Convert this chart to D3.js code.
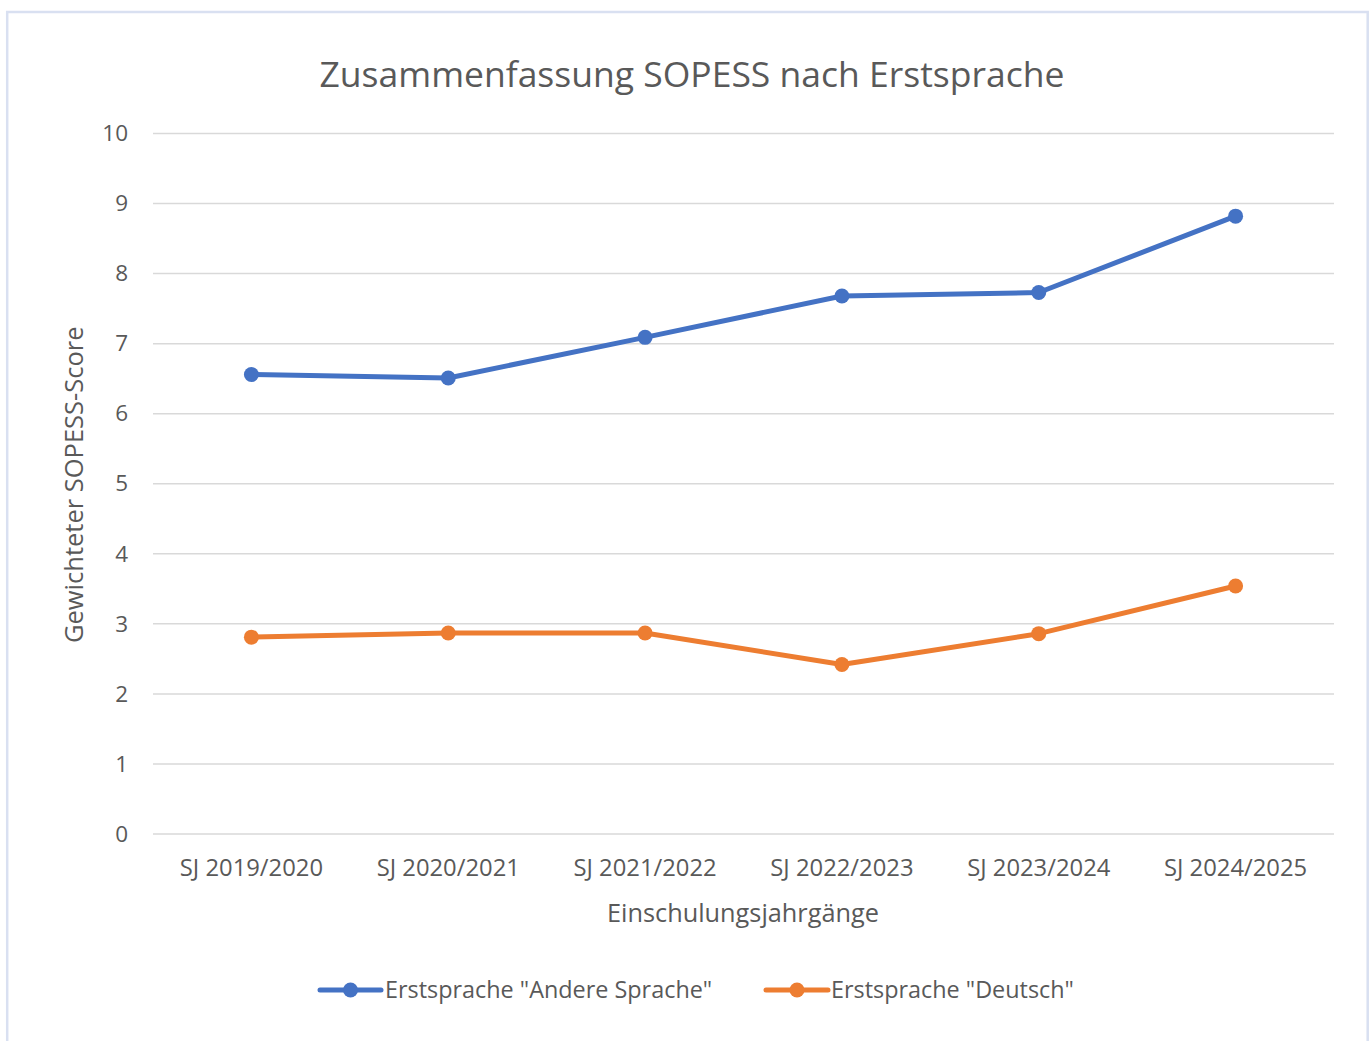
<!DOCTYPE html>
<html>
<head>
<meta charset="utf-8">
<script src="https://cdn.jsdelivr.net/npm/d3@7"></script>
<style>
  html, body { margin: 0; padding: 0; background: #ffffff; }
  svg { display: block; }
  text { font-family: "Open Sans", "Noto Sans", sans-serif; fill: #595959; }
</style>
</head>
<body>
<svg id="chart" width="1372" height="1041"></svg>
<script>
// Weighted SOPESS score by first language, per school-entry cohort
const categories = ["SJ 2019/2020", "SJ 2020/2021", "SJ 2021/2022", "SJ 2022/2023", "SJ 2023/2024", "SJ 2024/2025"];
const andereSprache = [6.56, 6.51, 7.09, 7.68, 7.73, 8.82];
const deutsch = [2.81, 2.87, 2.87, 2.42, 2.86, 3.54];
const yTicks = [0, 1, 2, 3, 4, 5, 6, 7, 8, 9, 10];
const seriesNames = ['Erstsprache "Andere Sprache"', 'Erstsprache "Deutsch"'];
const seriesColors = ["#4472C4", "#ED7D31"];

const title = "Zusammenfassung SOPESS nach Erstsprache";
const xTitle = "Einschulungsjahrgänge";
const yTitle = "Gewichteter SOPESS-Score";

const svg = d3.select("#chart");
const plot = { left: 153, right: 1334, top: 133.5, bottom: 834 };

// outer chart frame
svg.append("rect")
  .attr("x", 7.2).attr("y", 12)
  .attr("width", 1360.5).attr("height", 1040)
  .attr("fill", "#ffffff")
  .attr("stroke", "#d9e0f1").attr("stroke-width", 2.5);

const x = d3.scaleBand().domain(categories).range([plot.left, plot.right]);
const y = d3.scaleLinear().domain([0, 10]).range([plot.bottom, plot.top]);

// horizontal gridlines
svg.append("g")
  .selectAll("line")
  .data(yTicks)
  .join("line")
  .attr("x1", plot.left).attr("x2", plot.right)
  .attr("y1", d => y(d)).attr("y2", d => y(d))
  .attr("stroke", "#d9d9d9").attr("stroke-width", 1.5);

// y axis tick labels
const yAxis = d3.axisLeft(y).tickValues(yTicks).tickSize(0).tickPadding(0);
const gy = svg.append("g").attr("transform", `translate(${plot.left - 25},0)`).call(yAxis);
gy.select(".domain").remove();
gy.selectAll("text")
  .style("font-family", '"Open Sans", sans-serif')
  .style("font-size", "22.5px")
  .attr("fill", "#595959");

// x axis category labels
const xAxis = d3.axisBottom(x).tickSize(0).tickPadding(0);
const gx = svg.append("g").attr("transform", `translate(0,${plot.bottom + 25})`).call(xAxis);
gx.select(".domain").remove();
gx.selectAll("text")
  .style("font-family", '"Open Sans", sans-serif')
  .style("font-size", "23.8px")
  .attr("fill", "#595959");

// titles
svg.append("text")
  .attr("x", 692).attr("y", 87)
  .attr("text-anchor", "middle")
  .style("font-size", "35.5px")
  .text(title);

svg.append("text")
  .attr("x", 743).attr("y", 922)
  .attr("text-anchor", "middle")
  .style("font-size", "25.3px")
  .text(xTitle);

svg.append("text")
  .attr("transform", `translate(83,${(plot.top + plot.bottom) / 2 + 1}) rotate(-90)`)
  .attr("text-anchor", "middle")
  .style("font-size", "25.5px")
  .text(yTitle);

// series lines with markers
const series = [andereSprache, deutsch];
const line = d3.line()
  .x((d, i) => x(categories[i]) + x.bandwidth() / 2)
  .y(d => y(d));

series.forEach((vals, s) => {
  const g = svg.append("g");
  g.append("path")
    .datum(vals)
    .attr("d", line)
    .attr("fill", "none")
    .attr("stroke", seriesColors[s])
    .attr("stroke-width", 5)
    .attr("stroke-linejoin", "round")
    .attr("stroke-linecap", "round");
  g.selectAll("circle")
    .data(vals)
    .join("circle")
    .attr("cx", (d, i) => x(categories[i]) + x.bandwidth() / 2)
    .attr("cy", d => y(d))
    .attr("r", 7.5)
    .attr("fill", seriesColors[s]);
});

// legend
const legendItems = [
  { x0: 320, x1: 381, tx: 385 },
  { x0: 766, x1: 828, tx: 831 }
];
const legendY = 990;
legendItems.forEach((it, s) => {
  const g = svg.append("g");
  g.append("line")
    .attr("x1", it.x0).attr("x2", it.x1)
    .attr("y1", legendY).attr("y2", legendY)
    .attr("stroke", seriesColors[s]).attr("stroke-width", 5)
    .attr("stroke-linecap", "round");
  g.append("circle")
    .attr("cx", (it.x0 + it.x1) / 2).attr("cy", legendY)
    .attr("r", 7.5).attr("fill", seriesColors[s]);
  g.append("text")
    .attr("x", it.tx).attr("y", legendY + 8)
    .style("font-size", "23.4px")
    .text(seriesNames[s]);
});
</script>
</body>
</html>
